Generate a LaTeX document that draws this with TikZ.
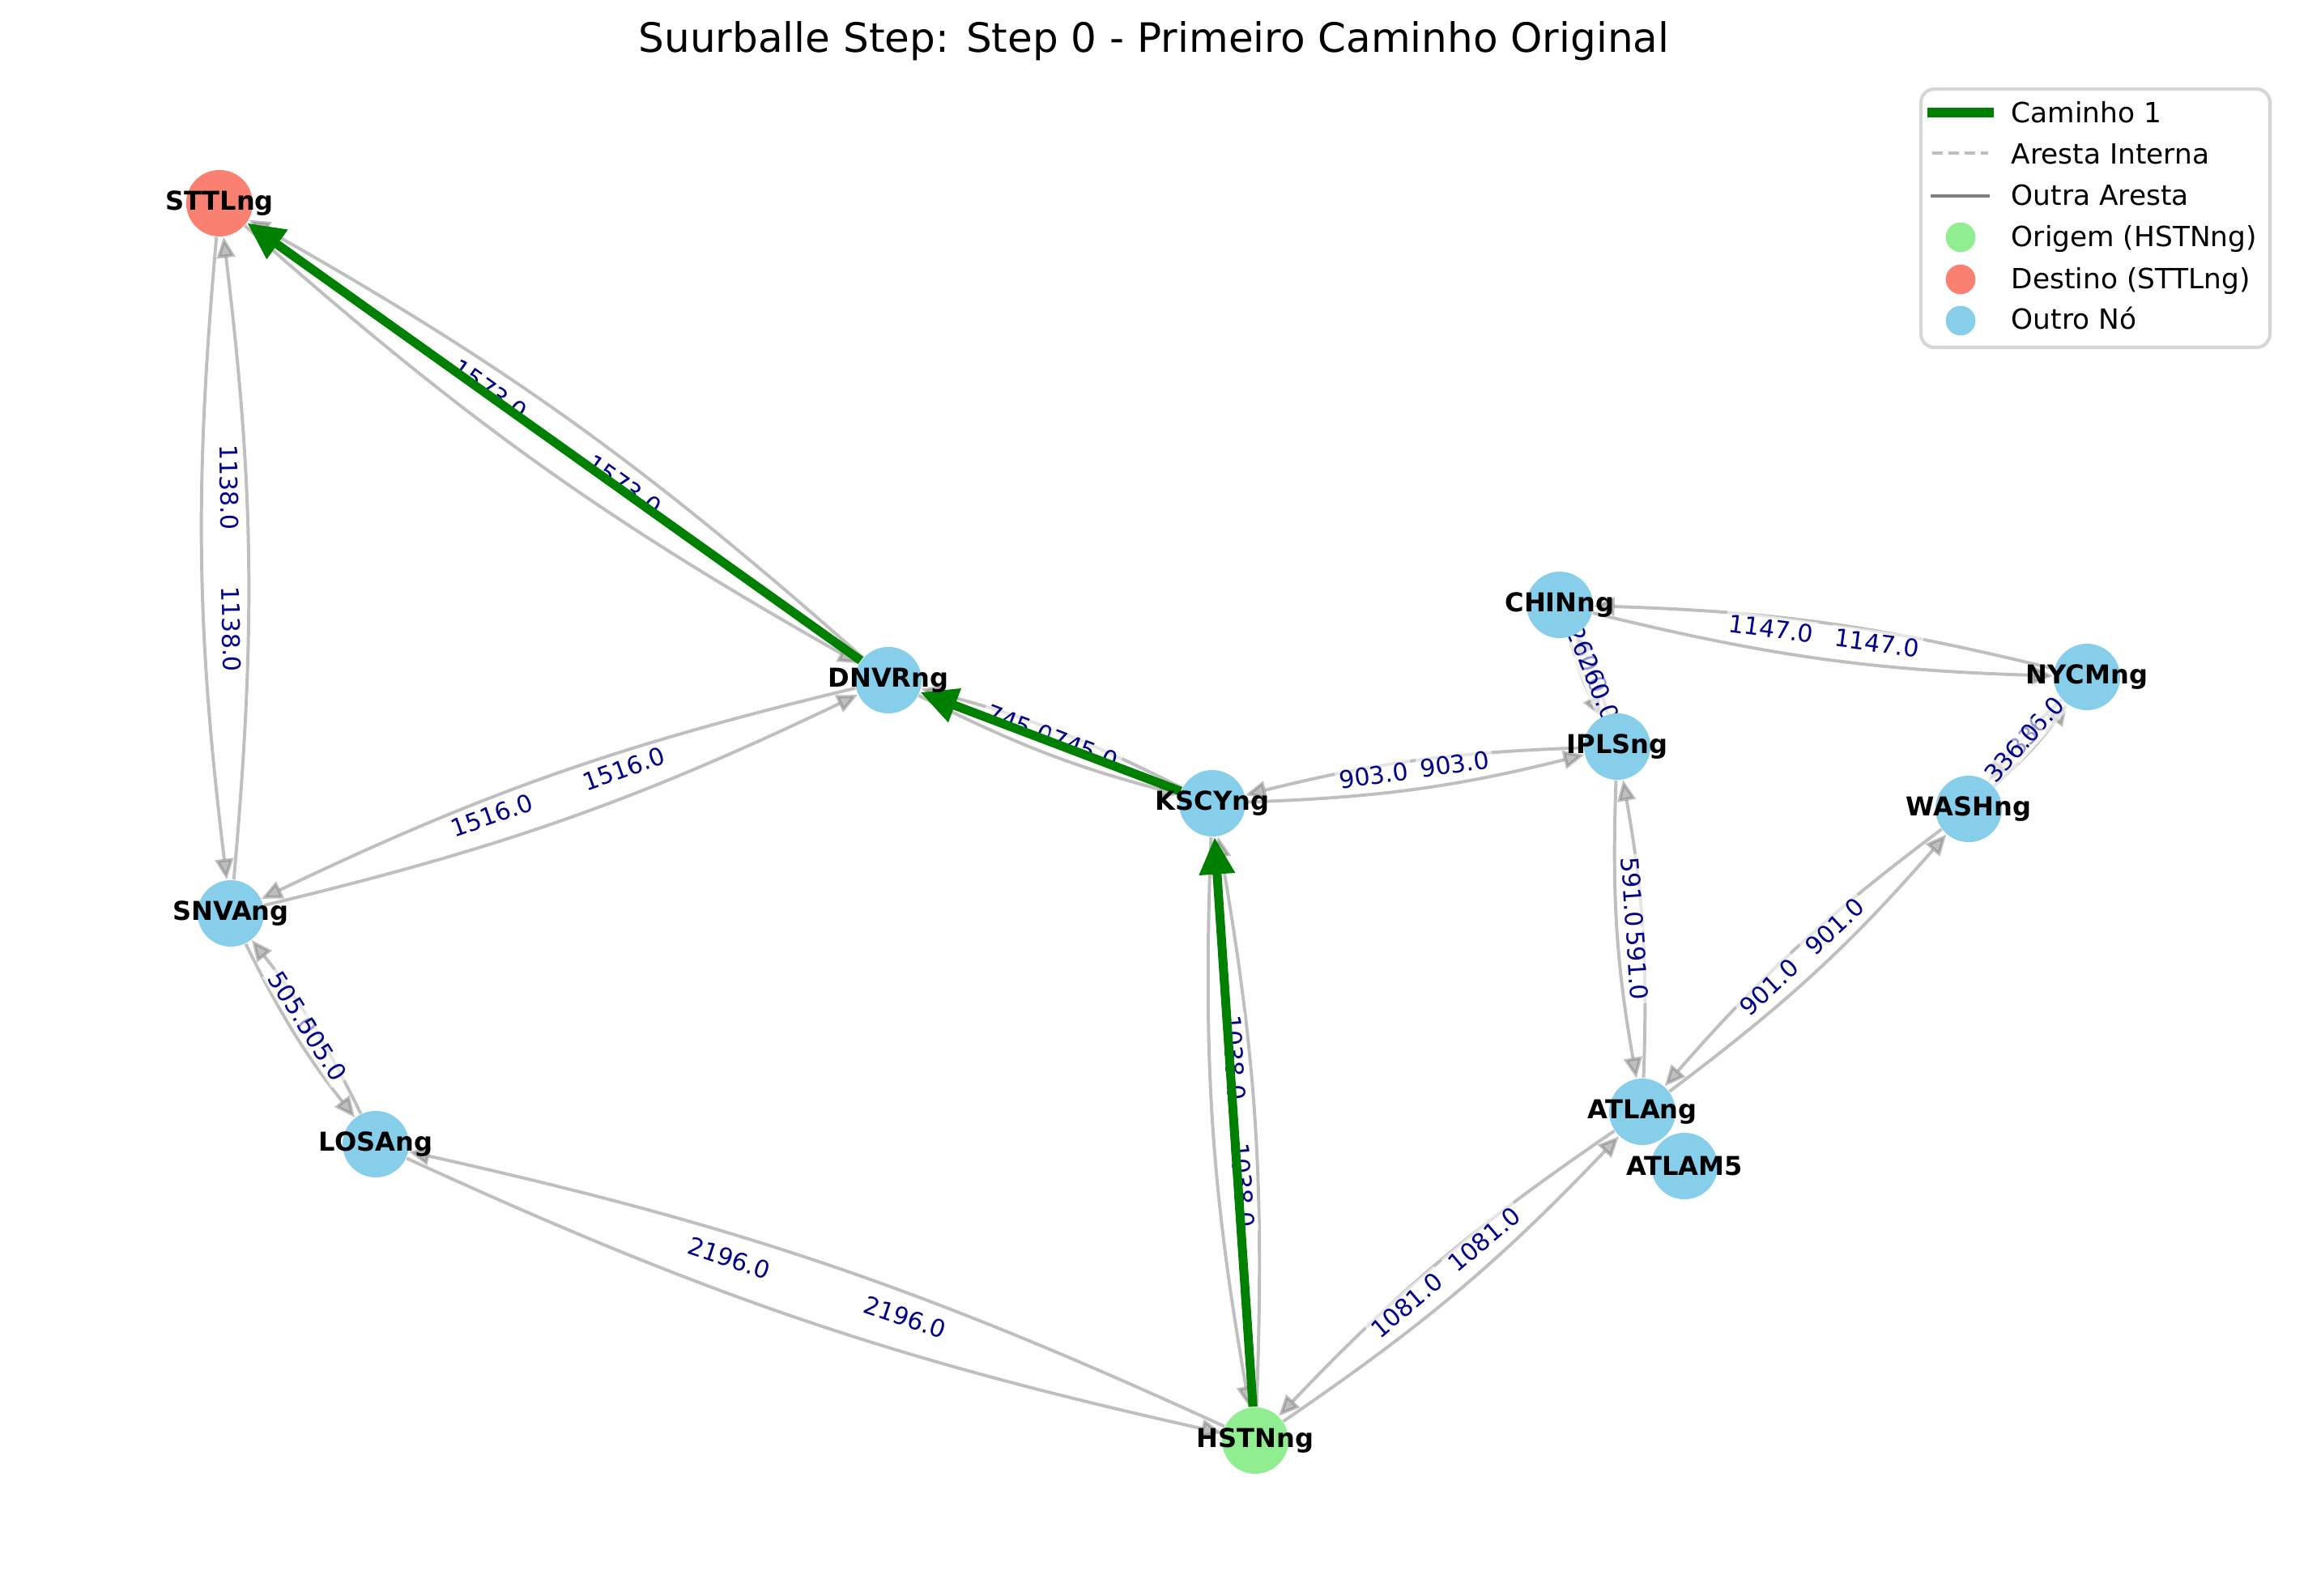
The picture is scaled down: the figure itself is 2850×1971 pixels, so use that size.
\documentclass[tikz,border=0pt]{standalone}
\usepackage{fontspec}
\setmainfont{DejaVu Sans}
\usepackage{tikz}
\usetikzlibrary{arrows.meta}
\usetikzlibrary{positioning}
\definecolor{skyblue}{HTML}{87CEEB}
\definecolor{lightgreen}{HTML}{90EE90}
\definecolor{salmon}{HTML}{FA8072}
\definecolor{pathgreen}{HTML}{008000}
\definecolor{darkblue}{HTML}{00008B}
\pgfdeclarelayer{edges}
\pgfsetlayers{edges,main}
\tikzset{
    city/.style={
           circle,
           fill=skyblue,
           minimum size=19.7pt,
           inner sep=0pt,
           },
    citylabel/.style={
           font=\bfseries\fontsize{7.7}{8}\selectfont,
           inner sep=0pt,
           },
    road/.style={
           draw=gray, opacity=0.5,
           line width=0.95pt,
           -{Triangle[length=6.2pt,width=5.4pt,fill=gray]},
           bend right=6,
           },
    weight/.style={
           font=\fontsize{7.2}{8}\selectfont,
           text=darkblue,
           fill=white, fill opacity=0.6, text opacity=1,
           inner sep=1pt,
           sloped, yshift=1.5pt,
           },
    route/.style={
           draw=pathgreen,
           line width=2.65pt,
           -{Triangle[length=11pt,width=10pt]},
           },
    legendtext/.style={
           font=\fontsize{8.25}{10}\selectfont,
           anchor=base west,
           inner sep=0pt,
           },
    legenddot/.style={
           circle,
           minimum size=8.8pt,
           inner sep=0pt,
           },
}

\begin{document}
\begin{tikzpicture}[x=0.24pt,y=-0.24pt]
 \useasboundingbox (0,0) rectangle (2850,1971);
 \node[font=\fontsize{12}{14}\selectfont] (title) at (1425,51)
 {Suurballe Step: Step 0 - Primeiro Caminho Original};

 % cities
 \node[city, fill=salmon] (STTL) at (271,251) {};
 \node[city] (SNVA) at (285,1128) {};
 \node[city] (LOSA) at (464,1413) {};
 \node[city] (DNVR) at (1097,840) {};
 \node[city] (KSCY) at (1497,992) {};
 \node[city, fill=lightgreen] (HSTN) at (1550,1779) {};
 \node[city] (CHIN) at (1926,747) {};
 \node[city] (IPLS) at (1997,922) {};
 \node[city] (NYCM) at (2577,836) {};
 \node[city] (WASH) at (2431,999) {};
 \node[city] (ATLA) at (2028,1373) {};
 \node[city] (ATLAM5) at (2080,1440) {};

 \begin{pgfonlayer}{edges}
 % both directions of every link
 \path
  (STTL) edge[road] (SNVA)
  (SNVA) edge[road] (STTL)
  (STTL) edge[road] (DNVR)
  (DNVR) edge[road] (STTL)
  (SNVA) edge[road] (DNVR)
  (DNVR) edge[road] (SNVA)
  (SNVA) edge[road] (LOSA)
  (LOSA) edge[road] (SNVA)
  (LOSA) edge[road] (HSTN)
  (HSTN) edge[road] (LOSA)
  (DNVR) edge[road] (KSCY)
  (KSCY) edge[road] (DNVR)
  (KSCY) edge[road] (HSTN)
  (HSTN) edge[road] (KSCY)
  (KSCY) edge[road] (IPLS)
  (IPLS) edge[road] (KSCY)
  (CHIN) edge[road] (IPLS)
  (IPLS) edge[road] (CHIN)
  (CHIN) edge[road] (NYCM)
  (NYCM) edge[road] (CHIN)
  (IPLS) edge[road] (ATLA)
  (ATLA) edge[road] (IPLS)
  (NYCM) edge[road] (WASH)
  (WASH) edge[road] (NYCM)
  (WASH) edge[road] (ATLA)
  (ATLA) edge[road] (WASH)
  (ATLA) edge[road] (HSTN)
  (HSTN) edge[road] (ATLA)
 ;
 % weights, one for each direction
 \path (STTL.center) -- node[weight,pos=0.4] {1138.0} node[weight,pos=0.6] {1138.0} (SNVA.center);
 \path (STTL.center) -- node[weight,pos=0.4] {1573.0} node[weight,pos=0.6] {1573.0} (DNVR.center);
 \path (SNVA.center) -- node[weight,pos=0.4] {1516.0} node[weight,pos=0.6] {1516.0} (DNVR.center);
 \path (SNVA.center) -- node[weight,pos=0.4] {505.0} node[weight,pos=0.6] {505.0} (LOSA.center);
 \path (LOSA.center) -- node[weight,pos=0.4] {2196.0} node[weight,pos=0.6] {2196.0} (HSTN.center);
 \path (DNVR.center) -- node[weight,pos=0.4] {745.0} node[weight,pos=0.6] {745.0} (KSCY.center);
 \path (KSCY.center) -- node[weight,pos=0.4] {1038.0} node[weight,pos=0.6] {1038.0} (HSTN.center);
 \path (KSCY.center) -- node[weight,pos=0.4] {903.0} node[weight,pos=0.6] {903.0} (IPLS.center);
 \path (CHIN.center) -- node[weight,pos=0.4] {260.0} node[weight,pos=0.6] {260.0} (IPLS.center);
 \path (CHIN.center) -- node[weight,pos=0.4] {1147.0} node[weight,pos=0.6] {1147.0} (NYCM.center);
 \path (IPLS.center) -- node[weight,pos=0.4] {591.0} node[weight,pos=0.6] {591.0} (ATLA.center);
 \path (NYCM.center) -- node[weight,pos=0.4] {336.0} node[weight,pos=0.6] {336.0} (WASH.center);
 \path (WASH.center) -- node[weight,pos=0.4] {901.0} node[weight,pos=0.6] {901.0} (ATLA.center);
 \path (ATLA.center) -- node[weight,pos=0.4] {1081.0} node[weight,pos=0.6] {1081.0} (HSTN.center);
 % first path
 \path
  (HSTN) edge[route] (KSCY)
  (KSCY) edge[route] (DNVR)
  (DNVR) edge[route] (STTL)
 ;
 \end{pgfonlayer}

 % city names
 \node[citylabel] at (STTL) {STTLng};
 \node[citylabel] at (SNVA) {SNVAng};
 \node[citylabel] at (LOSA) {LOSAng};
 \node[citylabel] at (DNVR) {DNVRng};
 \node[citylabel] at (KSCY) {KSCYng};
 \node[citylabel] at (HSTN) {HSTNng};
 \node[citylabel] at (CHIN) {CHINng};
 \node[citylabel] at (IPLS) {IPLSng};
 \node[citylabel] at (NYCM) {NYCMng};
 \node[citylabel] at (WASH) {WASHng};
 \node[citylabel] at (ATLA) {ATLAng};
 \node[citylabel] at (ATLAM5) {ATLAM5};

 % legend
 \node[draw=black!16, line width=1pt, rounded corners=4pt, fill=white,
  minimum width=103.4pt, minimum height=76.6pt] (legend) at (2587.5,269.5) {};
 \coordinate (k1a) at (2380,139);  \coordinate (k1b) at (2462,139);
 \coordinate (k2a) at (2386,189);  \coordinate (k2b) at (2455,189);
 \coordinate (k3a) at (2384,242);  \coordinate (k3b) at (2457,242);
 \draw[pathgreen, line width=2.8pt] (k1a) -- (k1b);
 \draw[black!25, line width=1pt, dash pattern=on 3.2pt off 1.6pt] (k2a) -- (k2b);
 \draw[gray, line width=1pt] (k3a) -- (k3b);
 \node[legenddot, fill=lightgreen] (k4) at (2421,293) {};
 \node[legenddot, fill=salmon] (k5) at (2421,345) {};
 \node[legenddot, fill=skyblue] (k6) at (2421,396) {};
 \node[legendtext] (t1) at (2483,151.7) {Caminho 1};
 \node[legendtext] (t2) at (2483,202.7) {Aresta Interna};
 \node[legendtext] (t3) at (2483,253.3) {Outra Aresta};
 \node[legendtext] (t4) at (2483,305) {Origem (HSTNng)};
 \node[legendtext] (t5) at (2483,356.7) {Destino (STTLng)};
 \node[legendtext] (t6) at (2483,406.7) {Outro Nó};
\end{tikzpicture}
\end{document}
